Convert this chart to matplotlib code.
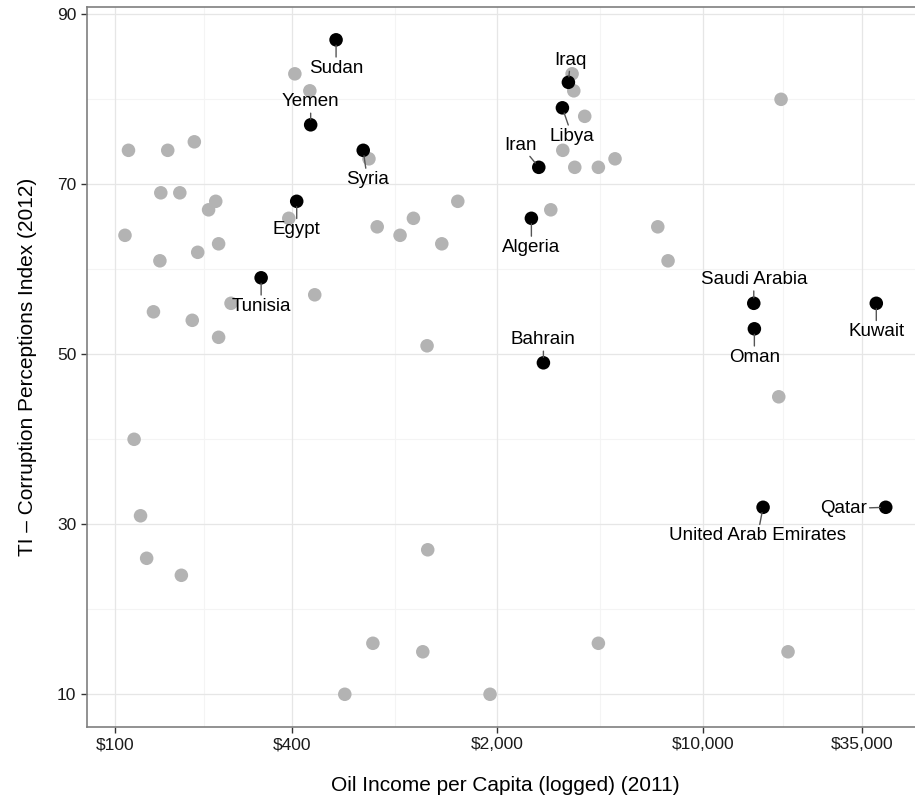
import numpy as np
import matplotlib
matplotlib.use('Agg')
import matplotlib.pyplot as plt

plt.rcParams['font.family'] = ['Liberation Sans', 'DejaVu Sans']

# countries without a label (grey dots)
other_income = [111, 151, 186, 143, 166, 220, 208, 390, 108, 780, 933, 1036, 1467, 1294,
                225, 191, 142, 478, 248, 135, 183, 225, 1153, 116, 122, 128, 168, 1159,
                754, 1115, 605, 1889, 409, 460, 731, 3594, 3642, 3968, 3341, 3670, 4416,
                5032, 3041, 7035, 7625, 18490, 18160, 4416, 19530]
other_cpi = [74, 74, 75, 69, 69, 68, 67, 66, 64, 65, 64, 66, 68, 63,
             63, 62, 61, 57, 56, 55, 54, 52, 51, 40, 31, 26, 24, 27,
             16, 15, 10, 10, 83, 81, 73, 83, 81, 78, 74, 72, 72,
             73, 67, 65, 61, 80, 45, 16, 15]

# MENA countries (black dots, labelled)
mena_names = ['Sudan', 'Yemen', 'Syria', 'Egypt', 'Tunisia', 'Iraq', 'Libya', 'Iran',
              'Algeria', 'Bahrain', 'Saudi Arabia', 'Oman', 'United Arab Emirates',
              'Kuwait', 'Qatar']
mena_income = [565, 463, 699, 415, 314, 3491, 3331, 2768, 2612, 2870, 14930, 15000,
               16060, 39010, 42010]
mena_cpi = [87, 77, 74, 68, 59, 82, 79, 72, 66, 49, 56, 53, 32, 56, 32]

x_ticks = [100, 400, 2000, 10000, 35000]
x_tick_labels = ['$100', '$400', '$2,000', '$10,000', '$35,000']
y_ticks = [10, 30, 50, 70, 90]

# label offsets in points (ggrepel-ish placement)
label_offsets = {
    'Sudan': (0, -20.5), 'Yemen': (0, 16.5), 'Syria': (3, -21), 'Egypt': (0, -20.5),
    'Tunisia': (0, -20.5), 'Iraq': (1.5, 16), 'Libya': (7, -20.5), 'Iran': (-13, 16),
    'Algeria': (0, -21), 'Bahrain': (0, 16.5), 'Saudi Arabia': (0, 17),
    'Oman': (0, -20.5), 'United Arab Emirates': (-4, -20.5), 'Kuwait': (0, -20.5),
    'Qatar': (-30.5, -1),
}

fig = plt.figure(figsize=(9.15, 8), dpi=100)
ax = fig.add_axes([86.7 / 915, 73 / 800, (924 - 86.7) / 915, (727 - 7.1) / 800])

ax.set_xscale('log')
ax.set_xlim(80, 56700)
ax.set_ylim(6.15, 90.85)

# grid: major + minor halfway (log) between major breaks
minor_x = [np.sqrt(a * b) for a, b in zip(x_ticks[:-1], x_ticks[1:])]
minor_y = [20, 40, 60, 80]
for v in minor_x:
    ax.axvline(v, color='#f4f4f4', lw=0.8, zorder=0)
for v in minor_y:
    ax.axhline(v, color='#f4f4f4', lw=0.8, zorder=0)
for v in x_ticks:
    ax.axvline(v, color='#e6e6e6', lw=0.9, zorder=0)
for v in y_ticks:
    ax.axhline(v, color='#e6e6e6', lw=0.9, zorder=0)

ax.scatter(other_income, other_cpi, s=95, color='#b3b3b3', edgecolors='none', zorder=2)
ax.scatter(mena_income, mena_cpi, s=95, color='black', edgecolors='none', zorder=3)

for name, xi, yi in zip(mena_names, mena_income, mena_cpi):
    dx, dy = label_offsets[name]
    ax.annotate(name, xy=(xi, yi), xytext=(dx, dy), textcoords='offset points',
                ha='center', va='center', fontsize=13.5, color='black', zorder=4,
                arrowprops=dict(arrowstyle='-', color='#555555', lw=1.0,
                                shrinkA=0, shrinkB=4))

ax.set_xticks(x_ticks)
ax.set_xticklabels(x_tick_labels)
ax.xaxis.set_minor_locator(matplotlib.ticker.NullLocator())
ax.set_yticks(y_ticks)
ax.tick_params(axis='both', length=4.5, width=1.0, color='#333333',
               labelsize=12.5, labelcolor='#1a1a1a', pad=3)

for side in ['top', 'bottom', 'left', 'right']:
    ax.spines[side].set_color('#7f7f7f')
    ax.spines[side].set_linewidth(1.2)

ax.set_xlabel('Oil Income per Capita (logged) (2011)', fontsize=15, labelpad=17)
ax.set_ylabel('TI – Corruption Perceptions Index (2012)', fontsize=15, labelpad=14)

fig.savefig('out.png', dpi=100)
